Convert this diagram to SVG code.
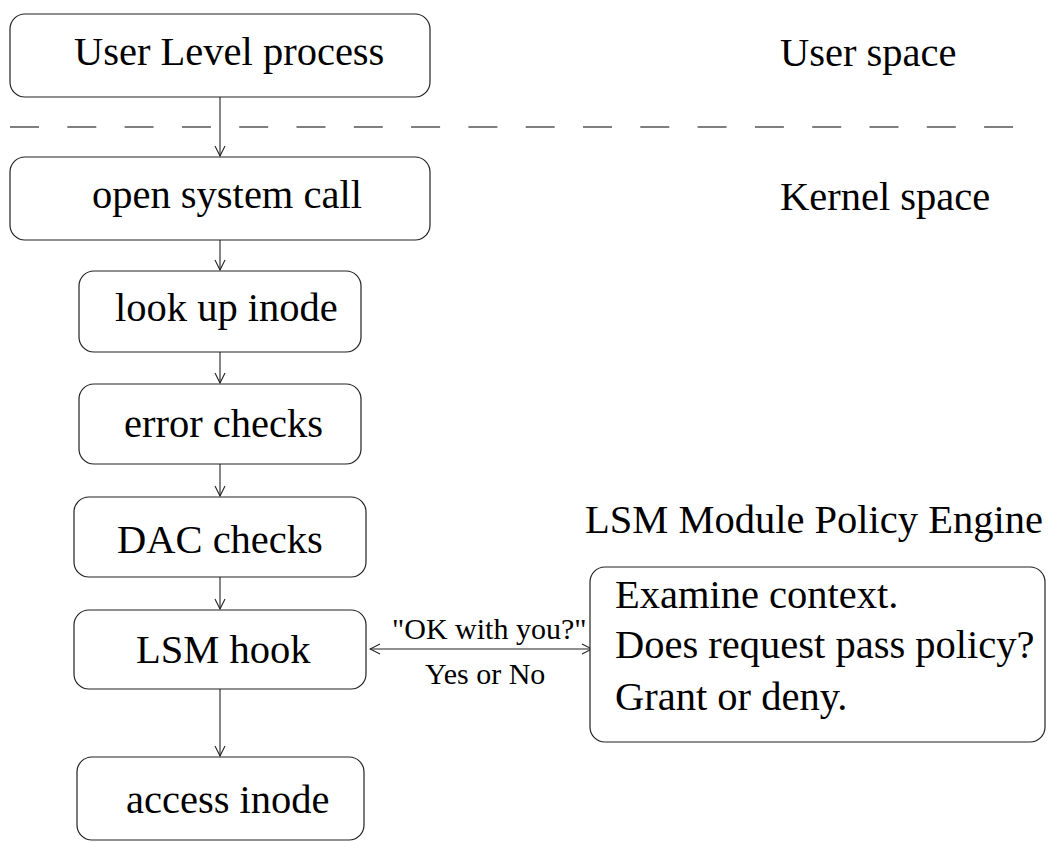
<svg xmlns="http://www.w3.org/2000/svg" width="1061" height="861" viewBox="0 0 1061 861">
<style>
.box{fill:#fff;stroke:#222;stroke-width:1.2}
.t{font-family:"Liberation Serif","Times New Roman",serif;font-size:40.5px;fill:#000}
.s{font-family:"Liberation Serif","Times New Roman",serif;font-size:30px;fill:#000}
.c{stroke:#222;stroke-width:1.1;fill:none}
</style>
<defs>
<marker id="ah" viewBox="0 0 12 12" refX="11" refY="6" markerWidth="12" markerHeight="12" markerUnits="userSpaceOnUse" orient="auto-start-reverse">
<path d="M1,1 L11,6 L1,11" fill="none" stroke="#222" stroke-width="1.1"/>
</marker>
</defs>
<rect width="1061" height="861" fill="#fff"/>
<line id="divider" x1="10" y1="127" x2="1016" y2="127" stroke="#555" stroke-width="1.4" stroke-dasharray="29 28.3"/>
<g id="connectors">
<line class="c" x1="220" y1="97" x2="220" y2="156" marker-end="url(#ah)"/>
<line class="c" x1="220" y1="240" x2="220" y2="270" marker-end="url(#ah)"/>
<line class="c" x1="220" y1="352" x2="220" y2="383" marker-end="url(#ah)"/>
<line class="c" x1="220" y1="464" x2="220" y2="496" marker-end="url(#ah)"/>
<line class="c" x1="220" y1="577" x2="220" y2="609" marker-end="url(#ah)"/>
<line class="c" x1="220" y1="689" x2="220" y2="756" marker-end="url(#ah)"/>
<line class="c" x1="370" y1="649" x2="592" y2="649" marker-start="url(#ah)" marker-end="url(#ah)"/>
<text class="s" x="392" y="639">"OK with you?"</text>
<text class="s" x="425" y="684">Yes or No</text>
</g>
<g id="user-process">
<rect class="box" x="10" y="14" width="420" height="83" rx="15"/>
<text class="t" x="74" y="65">User Level process</text>
</g>
<g id="open-syscall">
<rect class="box" x="10" y="157" width="420" height="83" rx="15"/>
<text class="t" x="92" y="208">open system call</text>
</g>
<g id="lookup-inode">
<rect class="box" x="79" y="271" width="282" height="81" rx="15"/>
<text class="t" x="115" y="321">look up inode</text>
</g>
<g id="error-checks">
<rect class="box" x="79" y="384" width="282" height="80" rx="15"/>
<text class="t" x="124" y="437">error checks</text>
</g>
<g id="dac-checks">
<rect class="box" x="74" y="497" width="292" height="80" rx="15"/>
<text class="t" x="117" y="553">DAC checks</text>
</g>
<g id="lsm-hook">
<rect class="box" x="74" y="610" width="292" height="79" rx="15"/>
<text class="t" x="136" y="663">LSM hook</text>
</g>
<g id="access-inode">
<rect class="box" x="77" y="757" width="287" height="83" rx="15"/>
<text class="t" x="126" y="813">access inode</text>
</g>
<g id="policy-engine">
<text class="t" x="585" y="533">LSM Module Policy Engine</text>
<rect class="box" x="590" y="567" width="455" height="175" rx="15"/>
<text class="t" x="615" y="608">Examine context.</text>
<text class="t" x="615" y="658">Does request pass policy?</text>
<text class="t" x="615" y="710">Grant or deny.</text>
</g>
<g id="labels">
<text class="t" x="780" y="66">User space</text>
<text class="t" x="780" y="210">Kernel space</text>
</g>
</svg>
